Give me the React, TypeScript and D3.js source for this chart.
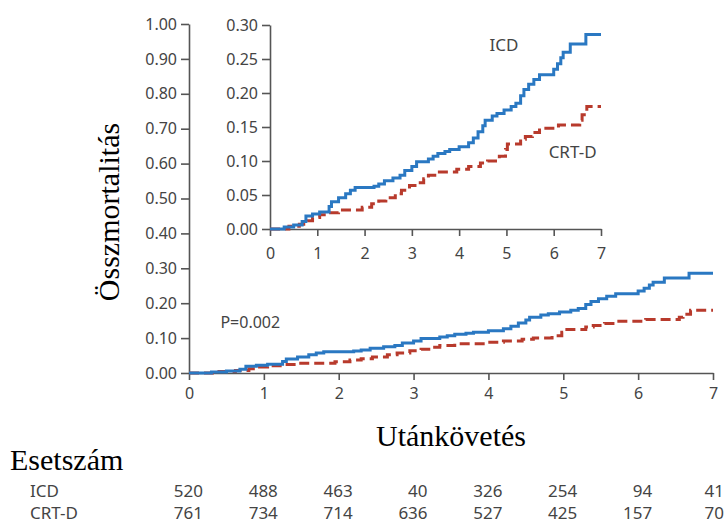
import { useEffect, useRef } from "react";
import * as d3 from "d3";

// follow-up time (years) where the curve steps, and the cumulative mortality after the step
const icdTime = [0, 0.3, 0.5, 0.68, 0.76, 0.9, 1.05, 1.25, 1.3, 1.45, 1.6, 1.7, 1.8, 2.2, 2.3, 2.42, 2.6, 2.75, 2.85, 3.0, 3.1, 3.35, 3.45, 3.55, 3.7, 3.8, 4.0, 4.2, 4.3, 4.4, 4.5, 4.55, 4.7, 4.8, 4.95, 5.1, 5.2, 5.3, 5.37, 5.47, 5.58, 5.7, 6.0, 6.08, 6.15, 6.2, 6.35, 6.68, 7.0];
const icdValue = [0, 0.003, 0.006, 0.011, 0.019, 0.022, 0.025, 0.033, 0.04, 0.046, 0.052, 0.057, 0.061, 0.063, 0.066, 0.071, 0.075, 0.079, 0.086, 0.092, 0.099, 0.103, 0.107, 0.111, 0.114, 0.117, 0.121, 0.127, 0.134, 0.143, 0.152, 0.16, 0.166, 0.17, 0.175, 0.18, 0.185, 0.196, 0.205, 0.213, 0.22, 0.227, 0.235, 0.243, 0.252, 0.26, 0.272, 0.286, 0.286];

const crtTime = [0, 0.4, 0.62, 0.8, 0.9, 1.05, 1.25, 1.45, 1.95, 2.15, 2.3, 2.45, 2.65, 2.78, 2.95, 3.1, 3.25, 3.35, 3.55, 3.95, 4.2, 4.45, 4.6, 4.85, 4.98, 5.02, 5.3, 5.4, 5.55, 5.7, 6.1, 6.55, 6.6, 6.7, 7.0];
const crtValue = [0, 0.004, 0.007, 0.012, 0.017, 0.021, 0.024, 0.028, 0.032, 0.037, 0.041, 0.046, 0.052, 0.057, 0.064, 0.068, 0.074, 0.079, 0.084, 0.088, 0.092, 0.097, 0.1, 0.107, 0.117, 0.125, 0.132, 0.136, 0.142, 0.148, 0.153, 0.16, 0.168, 0.18, 0.18];

const yearTicks = [0, 1, 2, 3, 4, 5, 6, 7];
const mainYTicks = [0, 0.1, 0.2, 0.3, 0.4, 0.5, 0.6, 0.7, 0.8, 0.9, 1.0];
const insetYTicks = [0, 0.05, 0.1, 0.15, 0.2, 0.25, 0.3];

// number at risk
const riskGroups = ["ICD", "CRT-D"];
const icdAtRisk = [520, 488, 463, 40, 326, 254, 94, 41];
const crtAtRisk = [761, 734, 714, 636, 527, 425, 157, 70];

const BLUE = "#2a78c2";
const RED = "#b83a2c";
const AXIS = "#555";
const TXT = "#444";
const SANS = "'Noto Sans', 'Open Sans', sans-serif";
const SERIF = "'Liberation Serif', 'Times New Roman', serif";

const App = () => {
  const svgRef = useRef<SVGSVGElement | null>(null);

  useEffect(() => {
    const svg = d3.select(svgRef.current);
    svg.selectAll("*").remove();

    const icd = icdTime.map((t, i) => [t, icdValue[i]] as [number, number]);
    const crt = crtTime.map((t, i) => [t, crtValue[i]] as [number, number]);

    function drawPanel(x: d3.ScaleLinear<number, number>, y: d3.ScaleLinear<number, number>, yTicks: number[], xPad: number) {
      const g = svg.append("g");
      const yAx = g.append("g")
        .attr("transform", `translate(${x(0)},0)`)
        .call(d3.axisLeft(y).tickValues(yTicks).tickFormat(d3.format(".2f")).tickSize(8).tickSizeOuter(0).tickPadding(4));
      const xAx = g.append("g")
        .attr("transform", `translate(0,${y(0)})`)
        .call(d3.axisBottom(x).tickValues(yearTicks).tickFormat(d3.format("d")).tickSize(7).tickSizeOuter(0).tickPadding(xPad));
      [yAx, xAx].forEach((a) => {
        a.select(".domain").attr("stroke", AXIS).attr("stroke-width", 1.6);
        a.selectAll(".tick line").attr("stroke", AXIS).attr("stroke-width", 1.6);
        a.selectAll(".tick text").attr("fill", TXT).style("font-family", SANS).style("font-size", "16px");
      });

      const line = d3.line<[number, number]>()
        .x((d) => x(d[0]))
        .y((d) => y(d[1]))
        .curve(d3.curveStepAfter);

      g.append("path").datum(crt)
        .attr("d", line).attr("fill", "none")
        .attr("stroke", RED).attr("stroke-width", 3)
        .attr("stroke-dasharray", "10,5");
      g.append("path").datum(icd)
        .attr("d", line).attr("fill", "none")
        .attr("stroke", BLUE).attr("stroke-width", 3);
      return g;
    }

    // main chart
    const x = d3.scaleLinear().domain([0, 7]).range([189, 713]);
    const y = d3.scaleLinear().domain([0, 1]).range([373, 24]);
    drawPanel(x, y, mainYTicks, 8);

    // inset zoom
    const xi = d3.scaleLinear().domain([0, 7]).range([270, 601]);
    const yi = d3.scaleLinear().domain([0, 0.3]).range([229, 25]);
    drawPanel(xi, yi, insetYTicks, 12);

    const label = (tx: string, px: number, py: number, size: number, anchor = "start", font = SANS) =>
      svg.append("text").attr("x", px).attr("y", py).attr("text-anchor", anchor)
        .attr("fill", font === SANS ? TXT : "#000")
        .style("font-family", font).style("font-size", size + "px").text(tx);

    label("ICD", xi(4.95), yi(0.262), 17, "middle");
    label("CRT-D", xi(6.4), yi(0.105), 17, "middle");
    label("P=0.002", x(0.42), y(0.13), 16);

    label("Utánkövetés", x(3.5), 446, 30, "middle", SERIF);
    label("Esetszám", 10, 470, 30, "start", SERIF);
    svg.append("text")
      .attr("transform", `translate(119,212) rotate(-90)`)
      .attr("text-anchor", "middle")
      .style("font-family", SERIF).style("font-size", "30px")
      .text("Összmortalitás");

    // number-at-risk table
    [icdAtRisk, crtAtRisk].forEach((row, r) => {
      const ry = 497 + r * 22;
      label(riskGroups[r], 30, ry, 17);
      row.forEach((n, i) => {
        svg.append("text")
          .attr("x", Math.min(x(yearTicks[i]) + 14, 724)).attr("y", ry)
          .attr("text-anchor", "end").attr("fill", TXT)
          .style("font-family", SANS).style("font-size", "17px")
          .text(n);
      });
    });
  }, []);

  return (
    <svg ref={svgRef} width={726} height={527}
      style={{ position: "absolute", left: 0, top: 0, background: "#fff" }} />
  );
};

export default App;
